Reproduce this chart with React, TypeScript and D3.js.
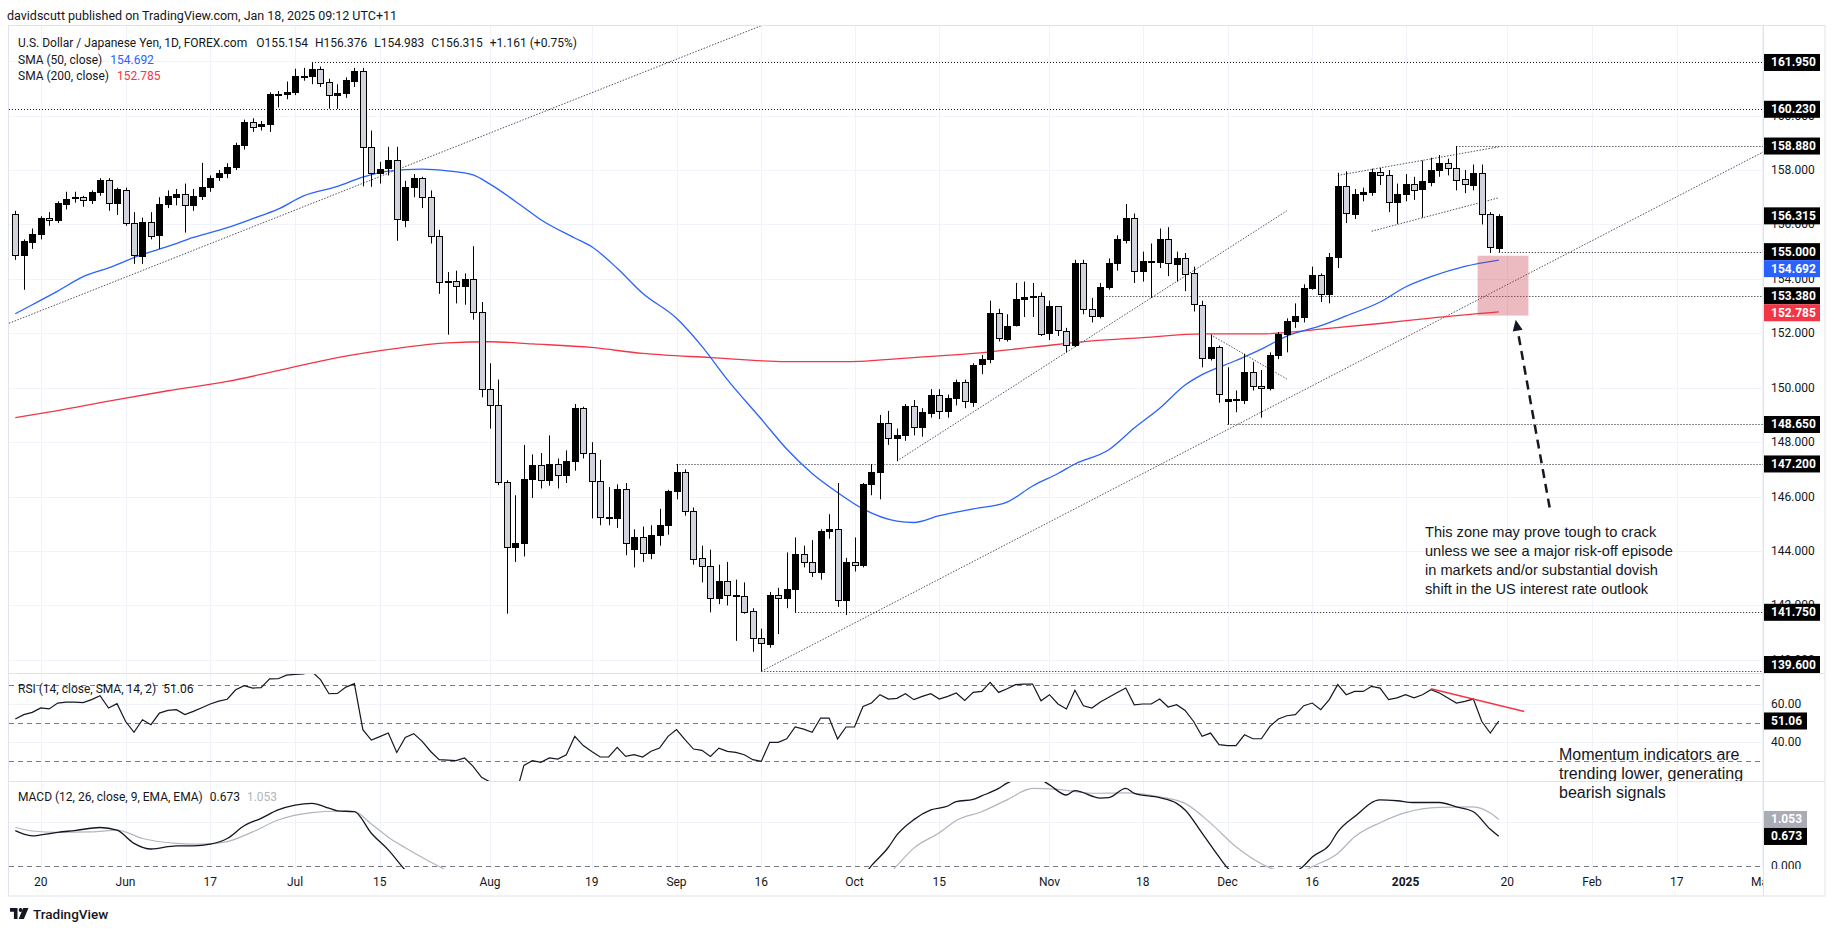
import React from "react";
import * as d3 from "d3";

// ---------------- DATA ----------------
const tradingDays: [string, number[]][] = [
  ["2024-05", [15, 16, 17, 20, 21, 22, 23, 24, 27, 28, 29, 30, 31]],
  ["2024-06", [3, 4, 5, 6, 7, 10, 11, 12, 13, 14, 17, 18, 19, 20, 21, 24, 25, 26, 27, 28]],
  ["2024-07", [1, 2, 3, 4, 5, 8, 9, 10, 11, 12, 15, 16, 17, 18, 19, 22, 23, 24, 25, 26, 29, 30, 31]],
  ["2024-08", [1, 2, 5, 6, 7, 8, 9, 12, 13, 14, 15, 16, 19, 20, 21, 22, 23, 26, 27, 28, 29, 30]],
  ["2024-09", [2, 3, 4, 5, 6, 9, 10, 11, 12, 13, 16, 17, 18, 19, 20, 23, 24, 25, 26, 27, 30]],
  ["2024-10", [1, 2, 3, 4, 7, 8, 9, 10, 11, 14, 15, 16, 17, 18, 21, 22, 23, 24, 25, 28, 29, 30, 31]],
  ["2024-11", [1, 4, 5, 6, 7, 8, 11, 12, 13, 14, 15, 18, 19, 20, 21, 22, 25, 26, 27, 28, 29]],
  ["2024-12", [2, 3, 4, 5, 6, 9, 10, 11, 12, 13, 16, 17, 18, 19, 20, 23, 24, 26, 27, 30, 31]],
  ["2025-01", [2, 3, 6, 7, 8, 9, 10, 13, 14, 15, 16, 17]],
];

const opens = [
  156.40, 154.87, 155.36, 155.65, 156.25, 156.15, 156.78, 156.95, 157.00, 156.88, 157.18, 157.62, 156.78,
  157.28, 156.05, 154.85, 156.10, 155.60, 156.75, 157.00, 157.12, 156.72, 157.05, 157.38, 157.72, 157.88, 158.10, 158.92, 159.78, 159.60, 159.68, 160.78, 160.80,
  160.88, 161.45, 161.46, 161.72, 161.22, 160.75, 160.82, 161.30, 161.65, 158.85, 157.90, 158.05, 158.35, 156.18, 157.38, 157.70, 157.00, 155.57, 153.88, 153.92, 153.72, 153.98, 152.77,
  149.95, 149.36, 146.54, 144.14, 144.30, 146.66, 147.18, 146.62, 147.20, 146.80, 147.30, 149.25, 147.60, 146.57, 145.25, 145.20, 146.27, 144.10, 144.53, 143.93, 144.60, 144.95,
  146.20, 146.90, 145.48, 143.73, 143.45, 142.28, 142.90, 142.40, 142.35, 141.78, 140.80, 140.60, 142.40, 142.28, 142.60, 143.88, 143.60, 143.22, 144.72, 144.80, 142.20,
  143.60, 143.50, 146.47, 146.90, 148.70, 148.15, 148.25, 149.32, 148.55, 149.10, 149.75, 149.15, 149.62, 150.20, 149.50, 150.85, 151.05, 152.75, 151.82, 152.28, 153.25, 153.33, 153.38,
  151.98, 152.99, 152.10, 151.57, 154.60, 152.91, 152.64, 153.70, 154.57, 155.45, 156.25, 154.30, 154.65, 154.62, 155.45, 154.55, 154.78, 154.20, 153.05, 151.10, 151.50,
  149.50, 149.58, 149.55, 150.58, 150.08, 150.00, 151.20, 151.98, 152.45, 152.62, 153.68, 154.14, 153.45, 154.80, 157.40, 156.40, 157.13, 157.20, 157.92, 157.82, 156.82,
  157.13, 157.50, 157.28, 157.58, 158.01, 158.27, 158.09, 157.66, 157.46, 157.90, 156.38, 155.154,
];
const highs = [
  156.50, 155.45, 155.85, 156.30, 156.45, 156.85, 157.20, 157.20, 157.05, 157.25, 157.70, 157.70, 157.35,
  157.35, 156.45, 156.25, 156.45, 157.00, 157.25, 157.30, 157.50, 157.30, 158.26, 157.80, 158.00, 158.25, 159.00, 159.85, 159.90, 159.80, 160.85, 160.90, 161.25,
  161.72, 161.75, 161.95, 161.80, 161.35, 161.15, 161.40, 161.75, 161.75, 159.45, 158.30, 158.85, 158.85, 157.60, 157.85, 157.75, 157.25, 155.80, 154.25, 154.30, 154.20, 155.20, 153.15,
  150.90, 150.30, 146.60, 146.05, 147.90, 147.55, 147.60, 148.25, 147.40, 147.70, 149.40, 149.30, 148.00, 147.35, 146.35, 146.45, 146.50, 144.80, 144.90, 144.95, 145.55, 146.25,
  147.20, 147.00, 145.60, 144.20, 144.05, 143.50, 143.60, 142.95, 142.85, 141.90, 141.15, 142.50, 142.65, 143.95, 144.50, 144.20, 144.40, 144.80, 145.35, 146.50, 143.75,
  144.50, 146.50, 147.20, 149.00, 149.15, 148.50, 149.40, 149.55, 149.25, 149.95, 149.95, 149.75, 150.30, 150.30, 150.90, 151.20, 153.20, 152.90, 152.70, 153.85, 153.90, 153.85, 153.50,
  153.20, 153.00, 152.20, 154.70, 154.70, 153.30, 153.85, 154.75, 155.60, 156.75, 156.40, 155.00, 155.30, 155.85, 155.90, 155.00, 154.95, 154.45, 153.20, 151.95, 151.55,
  150.75, 149.90, 151.25, 150.95, 150.65, 151.30, 152.05, 152.55, 153.10, 153.80, 154.45, 154.20, 154.95, 157.90, 157.95, 157.30, 157.35, 158.05, 158.08, 158.00, 157.50,
  157.85, 157.75, 158.35, 158.45, 158.55, 158.42, 158.88, 158.00, 158.20, 158.20, 156.45, 156.376,
];
const lows = [
  154.70, 153.60, 155.10, 155.45, 155.95, 156.05, 156.55, 156.80, 156.65, 156.75, 157.05, 156.50, 156.35,
  155.95, 154.55, 154.55, 155.45, 155.10, 156.60, 156.70, 155.70, 156.50, 156.90, 157.20, 157.60, 157.70, 158.00, 158.75, 159.40, 159.45, 159.40, 160.30, 160.60,
  160.75, 161.28, 161.15, 161.05, 160.25, 160.25, 160.65, 161.05, 157.40, 157.38, 157.50, 157.80, 155.40, 155.90, 157.00, 156.60, 155.30, 153.45, 151.95, 153.10, 153.05, 152.50, 149.65,
  148.50, 146.42, 141.70, 143.60, 143.80, 145.95, 146.30, 146.40, 146.30, 146.50, 146.95, 147.40, 145.20, 144.95, 144.95, 144.85, 143.85, 143.40, 143.60, 143.70, 144.20, 144.60,
  145.90, 145.30, 143.50, 142.85, 141.75, 142.05, 142.00, 140.70, 141.70, 140.30, 139.58, 140.45, 140.95, 141.90, 141.75, 143.40, 143.05, 142.95, 144.45, 141.95, 141.65,
  143.25, 143.40, 146.05, 145.90, 147.90, 147.30, 148.05, 148.25, 148.20, 148.90, 148.85, 148.90, 149.35, 149.25, 149.30, 150.50, 150.90, 151.70, 151.70, 152.25, 152.60, 152.60, 151.90,
  151.75, 151.90, 151.30, 151.50, 152.70, 152.40, 152.55, 153.60, 154.30, 155.30, 153.85, 153.90, 153.30, 154.40, 154.10, 153.90, 153.55, 152.80, 150.75, 151.00, 149.45,
  148.65, 149.10, 149.40, 149.90, 148.90, 149.90, 151.05, 151.30, 152.20, 152.40, 153.60, 153.15, 153.10, 154.40, 156.05, 156.20, 156.85, 157.05, 157.45, 156.45, 156.02,
  156.85, 156.90, 156.25, 157.40, 157.75, 157.80, 157.25, 157.15, 157.25, 156.00, 154.95, 154.983,
];
const closes = [
  154.88, 155.38, 155.65, 156.22, 156.18, 156.78, 156.95, 157.00, 156.88, 157.18, 157.62, 156.78, 157.30,
  156.05, 154.88, 156.10, 155.60, 156.75, 157.03, 157.12, 156.72, 157.05, 157.38, 157.72, 157.88, 158.10, 158.92, 159.78, 159.60, 159.68, 160.78, 160.80, 160.88,
  161.45, 161.46, 161.72, 161.22, 160.75, 160.82, 161.30, 161.65, 158.85, 157.90, 158.05, 158.35, 156.18, 157.38, 157.70, 157.00, 155.57, 153.88, 153.92, 153.72, 153.98, 152.77, 149.95,
  149.36, 146.54, 144.14, 144.30, 146.66, 147.18, 146.62, 147.20, 146.80, 147.30, 149.25, 147.60, 146.57, 145.25, 145.20, 146.27, 144.30, 144.53, 143.93, 144.60, 144.95, 146.20,
  146.90, 145.48, 143.73, 143.45, 142.28, 142.90, 142.40, 142.35, 141.78, 140.80, 140.60, 142.40, 142.28, 142.60, 143.88, 143.60, 143.22, 144.72, 144.80, 142.20, 143.60,
  143.50, 146.47, 146.90, 148.70, 148.15, 148.25, 149.32, 148.55, 149.10, 149.75, 149.15, 149.62, 150.20, 149.50, 150.85, 151.05, 152.75, 151.82, 152.28, 153.25, 153.33, 153.38, 151.98,
  152.99, 152.10, 151.57, 154.60, 152.91, 152.64, 153.70, 154.57, 155.45, 156.25, 154.30, 154.65, 154.62, 155.45, 154.55, 154.78, 154.20, 153.05, 151.10, 151.50, 149.77,
  149.58, 149.55, 150.58, 150.08, 150.00, 151.20, 151.98, 152.45, 152.62, 153.68, 154.14, 153.45, 154.80, 157.40, 156.40, 157.13, 157.20, 157.92, 157.82, 156.82, 157.13,
  157.50, 157.28, 157.58, 158.01, 158.27, 158.09, 157.66, 157.46, 157.90, 156.38, 155.15, 156.315,
];

const rsiValues = [
  52.1, 54.4, 55.6, 57.9, 57.4, 60.5, 61.0, 61.0, 60.7, 62.3, 64.4, 57.9, 60.2,
  50.9, 45.1, 51.7, 49.1, 55.2, 56.6, 57.0, 54.4, 56.1, 58.0, 60.0, 61.5, 62.5, 67.5, 69.6, 68.4, 68.6, 73.2, 73.3, 75.2,
  75.6, 75.9, 77.0, 72.8, 65.4, 65.6, 68.9, 70.7, 46.5, 41.0, 42.8, 44.7, 34.5, 42.4, 44.4, 40.3, 35.0, 30.7, 30.5, 30.2, 31.6, 27.2, 21.4,
  19.0, 14.0, 11.0, 11.5, 27.7, 30.2, 29.3, 31.6, 31.0, 33.3, 43.0, 38.1, 35.0, 32.1, 32.1, 37.2, 32.4, 33.3, 32.1, 35.1, 36.8, 43.0,
  46.5, 41.2, 36.3, 35.6, 32.4, 36.8, 35.1, 34.5, 33.3, 30.7, 29.8, 39.8, 39.8, 41.7, 47.9, 46.8, 45.1, 52.6, 52.6, 41.6, 47.9,
  47.9, 58.7, 60.5, 64.9, 62.6, 63.0, 65.4, 62.3, 64.0, 65.4, 62.6, 64.0, 65.8, 61.9, 66.1, 66.6, 71.4, 66.1, 68.0, 70.2, 70.5, 70.5, 61.7,
  64.9, 60.0, 57.4, 67.2, 59.1, 57.9, 61.0, 63.5, 66.0, 68.4, 59.6, 60.0, 60.0, 62.6, 58.4, 59.6, 56.6, 50.8, 43.0, 44.7, 38.6,
  38.1, 38.1, 43.8, 41.7, 41.7, 48.2, 52.1, 53.8, 54.4, 59.1, 60.5, 57.0, 62.3, 70.2, 64.9, 66.6, 66.6, 69.3, 68.4, 62.3, 63.2,
  64.9, 63.2, 64.9, 67.5, 65.8, 63.2, 60.5, 61.4, 62.6, 50.8, 44.7, 51.06,
];

const sma50: [string, number][] = [
  ["2024-05-15", 152.72], ["2024-05-17", 153.05], ["2024-05-22", 153.55], ["2024-05-27", 154.08], ["2024-05-30", 154.40],
  ["2024-06-05", 154.90], ["2024-06-10", 155.19], ["2024-06-13", 155.52], ["2024-06-19", 155.88], ["2024-06-24", 156.21],
  ["2024-06-27", 156.56], ["2024-07-02", 157.05], ["2024-07-08", 157.40], ["2024-07-11", 157.74], ["2024-07-16", 157.96],
  ["2024-07-22", 158.03], ["2024-07-25", 157.97], ["2024-07-30", 157.82], ["2024-08-01", 157.48], ["2024-08-07", 156.62],
  ["2024-08-09", 156.17], ["2024-08-15", 155.50], ["2024-08-19", 155.18], ["2024-08-22", 154.39], ["2024-08-27", 153.47],
  ["2024-09-02", 152.55], ["2024-09-05", 151.52], ["2024-09-10", 150.30], ["2024-09-16", 148.85], ["2024-09-19", 147.75],
  ["2024-09-24", 146.85], ["2024-09-27", 146.15], ["2024-10-02", 145.55], ["2024-10-08", 145.10], ["2024-10-10", 145.05],
  ["2024-10-15", 145.30], ["2024-10-21", 145.55], ["2024-10-25", 145.80], ["2024-10-30", 146.39], ["2024-11-04", 146.85],
  ["2024-11-06", 147.20], ["2024-11-12", 147.72], ["2024-11-15", 148.52], ["2024-11-20", 149.25], ["2024-11-25", 150.10],
  ["2024-11-27", 150.48], ["2024-12-03", 151.00], ["2024-12-06", 151.42], ["2024-12-11", 151.90], ["2024-12-17", 152.28],
  ["2024-12-20", 152.64], ["2024-12-27", 153.15], ["2025-01-02", 153.70], ["2025-01-07", 154.08], ["2025-01-13", 154.46],
  ["2025-01-17", 154.692],
];
const sma200: [string, number][] = [
  ["2024-05-15", 148.90], ["2024-05-22", 149.16], ["2024-05-30", 149.51], ["2024-06-10", 149.89], ["2024-06-19", 150.23],
  ["2024-06-27", 150.63], ["2024-07-08", 151.11], ["2024-07-17", 151.45], ["2024-07-25", 151.65], ["2024-08-01", 151.69],
  ["2024-08-08", 151.61], ["2024-08-19", 151.48], ["2024-08-27", 151.26], ["2024-09-06", 151.11], ["2024-09-19", 150.96],
  ["2024-09-30", 150.96], ["2024-10-10", 151.11], ["2024-10-21", 151.26], ["2024-10-30", 151.49], ["2024-11-08", 151.72],
  ["2024-11-18", 151.84], ["2024-11-27", 151.98], ["2024-12-06", 151.98], ["2024-12-17", 152.15], ["2024-12-27", 152.36],
  ["2025-01-07", 152.56], ["2025-01-17", 152.785],
];
const macdValues: [string, number][] = [
  ["2024-05-15", 0.80], ["2024-05-16", 0.72], ["2024-05-17", 0.68], ["2024-05-20", 0.70], ["2024-05-22", 0.76],
  ["2024-05-24", 0.80], ["2024-05-29", 0.87], ["2024-05-31", 0.81], ["2024-06-04", 0.51], ["2024-06-06", 0.38],
  ["2024-06-11", 0.45], ["2024-06-13", 0.45], ["2024-06-17", 0.49], ["2024-06-19", 0.62], ["2024-06-21", 0.91],
  ["2024-06-25", 1.08], ["2024-06-27", 1.27], ["2024-07-01", 1.38], ["2024-07-03", 1.42], ["2024-07-05", 1.31],
  ["2024-07-08", 1.25], ["2024-07-10", 1.23], ["2024-07-12", 0.74], ["2024-07-16", 0.36], ["2024-07-18", -0.10],
  ["2024-07-23", -0.6], ["2024-07-29", -1.0], ["2024-08-05", -1.8], ["2024-08-12", -2.0], ["2024-08-19", -1.8],
  ["2024-08-26", -1.7], ["2024-09-02", -1.4], ["2024-09-09", -1.6], ["2024-09-16", -1.8], ["2024-09-23", -1.3],
  ["2024-09-30", -0.8], ["2024-10-03", 0.0], ["2024-10-07", 0.42], ["2024-10-08", 0.70], ["2024-10-10", 1.05],
  ["2024-10-14", 1.27], ["2024-10-16", 1.36], ["2024-10-17", 1.46], ["2024-10-21", 1.51], ["2024-10-22", 1.59],
  ["2024-10-24", 1.76], ["2024-10-25", 1.88], ["2024-10-29", 2.00], ["2024-10-31", 1.95], ["2024-11-01", 1.84],
  ["2024-11-05", 1.61], ["2024-11-06", 1.71], ["2024-11-11", 1.54], ["2024-11-12", 1.55], ["2024-11-14", 1.76],
  ["2024-11-15", 1.65], ["2024-11-20", 1.55], ["2024-11-22", 1.42], ["2024-11-25", 1.27], ["2024-11-27", 0.74],
  ["2024-11-29", 0.20], ["2024-12-02", -0.05], ["2024-12-05", -0.4], ["2024-12-10", -0.3], ["2024-12-13", 0.0],
  ["2024-12-16", 0.20], ["2024-12-18", 0.47], ["2024-12-19", 0.77], ["2024-12-23", 1.12], ["2024-12-27", 1.50],
  ["2024-12-31", 1.48], ["2025-01-03", 1.44], ["2025-01-08", 1.44], ["2025-01-10", 1.34], ["2025-01-14", 1.23],
  ["2025-01-16", 0.83], ["2025-01-17", 0.673],
];
const signalValues: [string, number][] = [
  ["2024-05-15", 0.875], ["2024-05-17", 0.79], ["2024-05-22", 0.76], ["2024-05-28", 0.77], ["2024-05-31", 0.81],
  ["2024-06-05", 0.62], ["2024-06-11", 0.51], ["2024-06-14", 0.49], ["2024-06-19", 0.55], ["2024-06-24", 0.77],
  ["2024-06-27", 1.04], ["2024-07-03", 1.21], ["2024-07-08", 1.24], ["2024-07-10", 1.23], ["2024-07-12", 0.95],
  ["2024-07-16", 0.65], ["2024-07-18", 0.41], ["2024-07-24", -0.02], ["2024-07-31", -0.5], ["2024-08-12", -1.5],
  ["2024-08-26", -1.8], ["2024-09-09", -1.6], ["2024-09-23", -1.5], ["2024-10-02", -0.9], ["2024-10-08", 0.0],
  ["2024-10-10", 0.40], ["2024-10-15", 0.75], ["2024-10-17", 1.03], ["2024-10-22", 1.23], ["2024-10-25", 1.50],
  ["2024-10-30", 1.76], ["2024-11-04", 1.74], ["2024-11-08", 1.65], ["2024-11-14", 1.66], ["2024-11-20", 1.57],
  ["2024-11-25", 1.42], ["2024-11-28", 0.97], ["2024-12-03", 0.43], ["2024-12-09", -0.05], ["2024-12-12", -0.2],
  ["2024-12-16", -0.02], ["2024-12-19", 0.28], ["2024-12-23", 0.66], ["2024-12-27", 0.98], ["2025-01-02", 1.21],
  ["2025-01-08", 1.33], ["2025-01-14", 1.34], ["2025-01-16", 1.20], ["2025-01-17", 1.053],
];

const priceTicks = [140, 142, 144, 146, 148, 150, 152, 154, 156, 158, 160, 162];
const rsiTicks = [60, 40];
const rsiBands = [70, 50, 30];
const macdTicks = [0, 1];
const timeTicks: [string, string][] = [
  ["2024-05-20", "20"], ["2024-06-03", "Jun"], ["2024-06-17", "17"], ["2024-07-01", "Jul"], ["2024-07-15", "15"],
  ["2024-08-01", "Aug"], ["2024-08-19", "19"], ["2024-09-02", "Sep"], ["2024-09-16", "16"], ["2024-10-01", "Oct"],
  ["2024-10-15", "15"], ["2024-11-01", "Nov"], ["2024-11-18", "18"], ["2024-12-02", "Dec"], ["2024-12-16", "16"],
  ["2025-01-02", "2025"], ["2025-01-20", "20"], ["2025-02-03", "Feb"], ["2025-02-17", "17"], ["2025-03-03", "Mar"],
];

const levelPrices = [161.95, 160.23, 158.88, 155.0, 153.38, 148.65, 147.2, 141.75, 139.6];
const levelStarts: (string | null)[] = [
  "2024-07-03", null, "2025-01-10", "2025-01-17", "2024-11-11", "2024-12-02", "2024-09-02", "2024-09-20", "2024-09-16",
];

type Trend = { a: [string, number]; b: [string, number]; ext: "none" | "right" | "both" };
const trendLines: Trend[] = [
  { a: ["2024-05-15", 152.46], b: ["2024-07-24", 158.62], ext: "both" },
  { a: ["2024-09-16", 139.58], b: ["2024-12-02", 148.46], ext: "right" },
  { a: ["2024-10-08", 147.31], b: ["2024-12-11", 156.50], ext: "none" },
  { a: ["2024-12-19", 157.80], b: ["2025-01-17", 158.85], ext: "none" },
  { a: ["2024-12-26", 155.75], b: ["2025-01-17", 156.98], ext: "none" },
  { a: ["2024-11-28", 151.95], b: ["2024-12-11", 150.32], ext: "none" },
];
const rsiTrend: [string, number][] = [["2025-01-07", 68.0], ["2025-01-22", 56.1]];
const zone = { from: "2025-01-15", to: "2025-01-22", top: 154.85, bottom: 152.65 };
const arrow: [string, number][] = [["2025-01-27", 145.6], ["2025-01-21", 152.5]];

const zoneNote = [
  "This zone may prove tough to crack",
  "unless we see a major risk-off episode",
  "in markets and/or substantial dovish",
  "shift in the US interest rate outlook",
];
const momentumNote = ["Momentum indicators are", "trending lower, generating", "bearish signals"];

// ---------------- CHART ----------------
const dates: string[] = tradingDays.flatMap(([m, ds]) => ds.map((d) => `${m}-${String(d).padStart(2, "0")}`));
const parse = d3.utcParse("%Y-%m-%d");

function idx(ds: string): number {
  const k = dates.indexOf(ds);
  if (k >= 0) return k;
  const last = parse(dates[dates.length - 1])!;
  const d = parse(ds)!;
  const days = d3.utcDay
    .range(d3.utcDay.offset(last, 1), d3.utcDay.offset(d, 1))
    .filter((t) => t.getUTCDay() !== 0 && t.getUTCDay() !== 6).length;
  return dates.length - 1 + days;
}

const FONT = "Roboto, 'Liberation Sans', Arial, sans-serif";
const NOTE_FONT = "'Liberation Sans', Arial, sans-serif";
const TXT = "#131722";

type Lab = { y: number; text: string; bg: string; fg: string; yc?: number };
function placeLabels(labs: Lab[], top: number, bottom: number, h: number): Lab[] {
  const s = [...labs].sort((a, b) => a.y - b.y);
  for (let i = 0; i < s.length; i++) {
    let yc = Math.max(top + h / 2, Math.min(bottom - h / 2, s[i].y));
    if (i > 0 && yc < (s[i - 1].yc as number) + h) yc = (s[i - 1].yc as number) + h;
    s[i].yc = yc;
  }
  for (let i = s.length - 1; i >= 0; i--) {
    if ((s[i].yc as number) > bottom - h / 2) s[i].yc = bottom - h / 2;
    if (i < s.length - 1 && (s[i].yc as number) > (s[i + 1].yc as number) - h) s[i].yc = (s[i + 1].yc as number) - h;
  }
  return s;
}

export default function App() {
  const W = 1835, H = 931;
  const L = 9, R = 1763, AX = 1825;
  const T = 26, MB = 673, RB = 781, KB = 869, FB = 896;
  const step = 8.477, x0 = 15.3;
  const n = dates.length;

  const x = d3.scaleLinear().domain([0, n - 1]).range([x0, x0 + step * (n - 1)]);
  const y = d3.scaleLinear().domain([139.52, 163.29]).range([MB, T]);
  const yR = d3.scaleLinear().domain([30, 70]).range([761, 685]);
  const yM = d3.scaleLinear().domain([0, 1]).range([865.7, 821.8]);

  const px = (v: number) => Math.round(v) + 0.5;

  const smaLine = d3
    .line<[string, number]>()
    .x((d) => x(idx(d[0])))
    .y((d) => y(d[1]))
    .curve(d3.curveMonotoneX);
  const macdPath = d3
    .line<[string, number]>()
    .x((d) => x(idx(d[0])))
    .y((d) => yM(d[1]))
    .curve(d3.curveMonotoneX);
  const rsiPath = d3
    .line<number>()
    .x((_, i) => x(i))
    .y((d) => yR(d));

  const tickXs = timeTicks.map(([d, l]) => ({ x: x(idx(d)), l, bold: /^\d{4}$/.test(l) }));

  function trendCoords(t: Trend) {
    let x1 = x(idx(t.a[0])), y1 = y(t.a[1]);
    let x2 = x(idx(t.b[0])), y2 = y(t.b[1]);
    const m = (y2 - y1) / (x2 - x1);
    if (t.ext === "right" || t.ext === "both") {
      y2 = y2 + m * (R - x2);
      x2 = R;
    }
    if (t.ext === "both") {
      y1 = y1 + m * (L - x1);
      x1 = L;
    }
    return { x1, y1, x2, y2 };
  }

  const mainLabels = placeLabels(
    [
      ...levelPrices.map((p) => ({ y: y(p), text: p.toFixed(3), bg: "#000", fg: "#fff" })),
      { y: y(closes[n - 1]), text: closes[n - 1].toFixed(3), bg: "#000", fg: "#fff" },
      { y: y(sma50[sma50.length - 1][1]), text: sma50[sma50.length - 1][1].toFixed(3), bg: "#2962ff", fg: "#fff" },
      { y: y(sma200[sma200.length - 1][1]), text: sma200[sma200.length - 1][1].toFixed(3), bg: "#f23645", fg: "#fff" },
    ],
    T,
    MB,
    17
  );
  const lastMacd = macdValues[macdValues.length - 1][1];
  const lastSignal = signalValues[signalValues.length - 1][1];
  const macdLabels = placeLabels(
    [
      { y: yM(lastSignal), text: lastSignal.toFixed(3), bg: "#a9acb5", fg: "#fff" },
      { y: yM(lastMacd), text: lastMacd.toFixed(3), bg: "#000", fg: "#fff" },
    ],
    RB,
    KB,
    17
  );
  const lastRsi = rsiValues[n - 1];

  const visibleTick = (ty: number, labs: Lab[]) => !labs.some((lb) => Math.abs((lb.yc as number) - ty) < 4);

  const ax1 = x(idx(arrow[0][0])), ay1 = y(arrow[0][1]);
  const ax2 = x(idx(arrow[1][0])), ay2 = y(arrow[1][1]);
  const alen = Math.hypot(ax2 - ax1, ay2 - ay1);
  const ux = (ax2 - ax1) / alen, uy = (ay2 - ay1) / alen;
  const headL = 11, headW = 5;
  const bx = ax2 - ux * headL, by = ay2 - uy * headL;
  const head = `${ax2},${ay2} ${bx - uy * headW},${by + ux * headW} ${bx + uy * headW},${by - ux * headW}`;

  const zx1 = x(idx(zone.from)) - step / 2;
  const zx2 = x(idx(zone.to)) + step / 2;

  return (
    <div style={{ position: "absolute", left: 0, top: 0, width: W, height: H, background: "#fff" }}>
      <svg width={W} height={H} style={{ display: "block", fontFamily: FONT }}>
        <defs>
          <clipPath id="mainClip"><rect x={L} y={T} width={R - L} height={MB - T} /></clipPath>
          <clipPath id="rsiClip"><rect x={L} y={MB} width={R - L} height={RB - MB} /></clipPath>
          <clipPath id="macdClip"><rect x={L} y={RB} width={R - L} height={KB - RB} /></clipPath>
          <clipPath id="timeClip"><rect x={L} y={KB} width={R - L} height={FB - KB} /></clipPath>
          <clipPath id="macdAxisClip"><rect x={R} y={RB} width={AX - R} height={KB - RB} /></clipPath>
        </defs>

        <text x={7} y={15} dominantBaseline="central" fontSize={12.5} fill={TXT}>
          davidscutt published on TradingView.com, Jan 18, 2025 09:12 UTC+11
        </text>

        <rect x={8.5} y={T - 0.5} width={AX - 8.5} height={FB - T + 0.5} fill="#fff" stroke="#e0e3eb" />

        {tickXs.filter((t) => t.x < R).map((t, i) => (
          <line key={"vg" + i} x1={px(t.x)} x2={px(t.x)} y1={T} y2={KB} stroke="#f0f3fa" />
        ))}
        {priceTicks.map((p) => (
          <line key={"hg" + p} x1={L} x2={R} y1={px(y(p))} y2={px(y(p))} stroke="#f0f3fa" />
        ))}
        {rsiTicks.map((v) => (
          <line key={"rg" + v} x1={L} x2={R} y1={px(yR(v))} y2={px(yR(v))} stroke="#f0f3fa" />
        ))}
        <line x1={L} x2={R} y1={px(yM(1))} y2={px(yM(1))} stroke="#f0f3fa" />

        <g clipPath="url(#mainClip)">
          {levelPrices.map((p, i) => {
            const sx = levelStarts[i] ? x(idx(levelStarts[i] as string)) : L;
            return (
              <line key={"lv" + i} x1={sx} x2={R} y1={px(y(p))} y2={px(y(p))} stroke="#131722" strokeDasharray="1 2" />
            );
          })}
          {trendLines.map((t, i) => {
            const c = trendCoords(t);
            return <line key={"tl" + i} {...c} stroke="#50535e" strokeWidth={1} strokeDasharray="1.5 1.5" />;
          })}
          <path d={smaLine(sma200) || ""} fill="none" stroke="#f23645" strokeWidth={1.3} />
          <path d={smaLine(sma50) || ""} fill="none" stroke="#2962ff" strokeWidth={1.3} />
          {dates.map((d, i) => {
            const o = opens[i], h = highs[i], l = lows[i], c = closes[i];
            const up = c >= o;
            const cx = Math.round(x(i));
            const yt = y(Math.max(o, c)), yb = y(Math.min(o, c));
            const bh = Math.max(1, yb - yt);
            return (
              <g key={"c" + d}>
                <line x1={cx + 0.5} x2={cx + 0.5} y1={y(h)} y2={y(l)} stroke="#000" />
                <rect
                  x={cx - 2.5}
                  y={Math.round(yt) + 0.5}
                  width={6}
                  height={Math.max(1, Math.round(bh))}
                  fill={up ? "#000" : "#d1d4dc"}
                  stroke="#000"
                />
              </g>
            );
          })}
          <rect x={zx1} y={y(zone.top)} width={zx2 - zx1} height={y(zone.bottom) - y(zone.top)} fill="rgba(200,60,80,0.35)" />
          <line x1={ax1} y1={ay1} x2={bx} y2={by} stroke="#131722" strokeWidth={2.5} strokeDasharray="9 6" />
          <polygon points={head} fill="#131722" />
          <text x={1425} y={532} fontSize={14.6} fill="#131722" fontFamily={NOTE_FONT}>
            {zoneNote.map((s, i) => (
              <tspan key={i} x={1425} dy={i === 0 ? 0 : 19} dominantBaseline="central">{s}</tspan>
            ))}
          </text>
        </g>

        <text x={18} y={43} dominantBaseline="central" fontSize={12} fill={TXT}>
          <tspan>U.S. Dollar / Japanese Yen, 1D, FOREX.com</tspan>
          <tspan dx={9}>O155.154</tspan>
          <tspan dx={7}>H156.376</tspan>
          <tspan dx={7}>L154.983</tspan>
          <tspan dx={7}>C156.315</tspan>
          <tspan dx={7}>+1.161 (+0.75%)</tspan>
        </text>
        <text x={18} y={59.5} dominantBaseline="central" fontSize={12} fill={TXT}>
          <tspan>SMA (50, close)</tspan>
          <tspan dx={8} fill="#2962ff">154.692</tspan>
        </text>
        <text x={18} y={76} dominantBaseline="central" fontSize={12} fill={TXT}>
          <tspan>SMA (200, close)</tspan>
          <tspan dx={8} fill="#f23645">152.785</tspan>
        </text>

        <g clipPath="url(#rsiClip)">
          {rsiBands.map((v) => (
            <line key={"rb" + v} x1={L} x2={R} y1={px(yR(v))} y2={px(yR(v))} stroke="#787b86" strokeDasharray="5 4" />
          ))}
          <path d={rsiPath(rsiValues) || ""} fill="none" stroke="#131722" strokeWidth={1.2} />
          <line
            x1={x(idx(rsiTrend[0][0]))}
            y1={yR(rsiTrend[0][1])}
            x2={x(idx(rsiTrend[1][0]))}
            y2={yR(rsiTrend[1][1])}
            stroke="#f23645"
            strokeWidth={1.5}
          />
        </g>
        <text x={18} y={689} dominantBaseline="central" fontSize={12} fill={TXT}>
          <tspan>RSI (14, close, SMA, 14, 2)</tspan>
          <tspan dx={7}>{lastRsi.toFixed(2)}</tspan>
        </text>
        <text x={1559} y={754} fontSize={16} fill="#131722" fontFamily={NOTE_FONT}>
          {momentumNote.map((s, i) => (
            <tspan key={i} x={1559} dy={i === 0 ? 0 : 19} dominantBaseline="central">{s}</tspan>
          ))}
        </text>

        <g clipPath="url(#macdClip)">
          <line x1={L} x2={R} y1={px(yM(0))} y2={px(yM(0))} stroke="#787b86" strokeDasharray="5 4" />
          <path d={macdPath(signalValues) || ""} fill="none" stroke="#b2b5be" strokeWidth={1.2} />
          <path d={macdPath(macdValues) || ""} fill="none" stroke="#131722" strokeWidth={1.3} />
        </g>
        <text x={18} y={797} dominantBaseline="central" fontSize={12} fill={TXT}>
          <tspan>MACD (12, 26, close, 9, EMA, EMA)</tspan>
          <tspan dx={7}>{lastMacd.toFixed(3)}</tspan>
          <tspan dx={7} fill="#b2b5be">{lastSignal.toFixed(3)}</tspan>
        </text>

        <line x1={L} x2={AX} y1={MB + 0.5} y2={MB + 0.5} stroke="#e0e3eb" />
        <line x1={L} x2={AX} y1={RB + 0.5} y2={RB + 0.5} stroke="#e0e3eb" />
        <line x1={R + 0.5} x2={R + 0.5} y1={T} y2={FB} stroke="#e0e3eb" />

        {priceTicks.filter((p) => visibleTick(y(p), mainLabels)).map((p) => (
          <text key={"pt" + p} x={1771} y={y(p)} dominantBaseline="central" fontSize={12} fill={TXT}>
            {p.toFixed(3)}
          </text>
        ))}
        {mainLabels.map((lb, i) => (
          <g key={"ml" + i}>
            <rect x={R + 1} y={(lb.yc as number) - 8.5} width={56} height={17} fill={lb.bg} />
            <text x={1771} y={lb.yc} dominantBaseline="central" fontSize={12} fontWeight={700} fill={lb.fg}>
              {lb.text}
            </text>
          </g>
        ))}

        {rsiTicks.map((v) => (
          <text key={"ra" + v} x={1771} y={yR(v)} dominantBaseline="central" fontSize={12} fill={TXT}>
            {v.toFixed(2)}
          </text>
        ))}
        <rect x={R + 1} y={yR(lastRsi) - 8.5} width={43} height={17} fill="#000" />
        <text x={1771} y={yR(lastRsi)} dominantBaseline="central" fontSize={12} fontWeight={700} fill="#fff">
          {lastRsi.toFixed(2)}
        </text>

        <g clipPath="url(#macdAxisClip)">
          {macdTicks.filter((v) => visibleTick(yM(v), macdLabels)).map((v) => (
            <text key={"ma" + v} x={1771} y={yM(v)} dominantBaseline="central" fontSize={12} fill={TXT}>
              {v.toFixed(3)}
            </text>
          ))}
          {macdLabels.map((lb, i) => (
            <g key={"kl" + i}>
              <rect x={R + 1} y={(lb.yc as number) - 8.5} width={43} height={17} fill={lb.bg} />
              <text x={1771} y={lb.yc} dominantBaseline="central" fontSize={12} fontWeight={700} fill={lb.fg}>
                {lb.text}
              </text>
            </g>
          ))}
        </g>

        <g clipPath="url(#timeClip)">
          {tickXs.map((t, i) => (
            <text
              key={"tt" + i}
              x={t.x}
              y={882}
              textAnchor="middle"
              dominantBaseline="central"
              fontSize={12}
              fontWeight={t.bold ? 700 : 400}
              fill={TXT}
            >
              {t.l}
            </text>
          ))}
        </g>

        <g fill="#131722">
          <path d="M10,908 h7.5 v11 h-3.6 v-7.2 h-3.9 z" />
          <circle cx={20.6} cy={910} r={2} />
          <path d="M23.2,908 h5.3 l-4.6,11 h-5.2 z" />
        </g>
        <text x={33} y={913.5} dominantBaseline="central" fontSize={13.5} fontWeight={500} fill="#131722">
          TradingView
        </text>
      </svg>
    </div>
  );
}
